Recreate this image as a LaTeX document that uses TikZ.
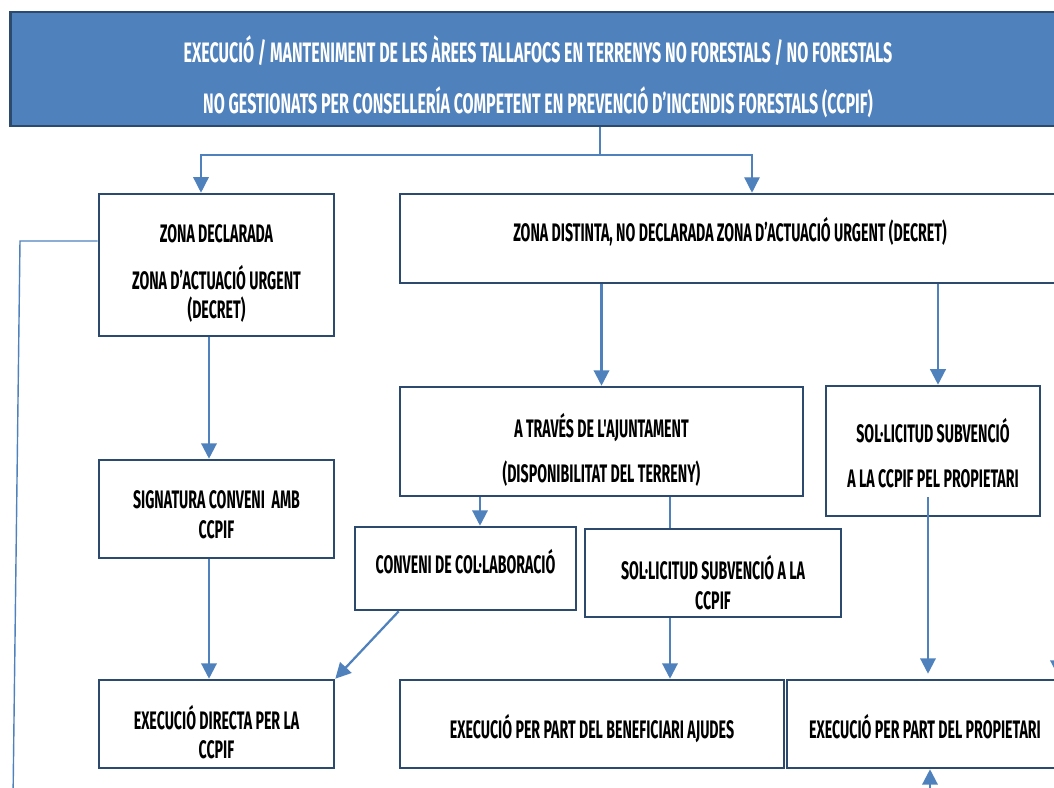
\documentclass[tikz,border=0pt]{standalone}
\usepackage{fontspec}
\setmainfont[FakeStretch=0.57]{Fira Sans}
\newfontfamily\boxfont[FakeStretch=0.56]{Fira Sans}
\usepackage{tikz}
\usetikzlibrary{arrows.meta,positioning,calc}
\definecolor{hdr}{HTML}{4F81BD}
\definecolor{edge}{HTML}{2C4A6E}
\definecolor{flow}{HTML}{4F81BD}
\newcommand\up[1]{\rule{0pt}{#1}}
\newcommand\dnn[1]{\rule[-#1]{0pt}{0pt}}

\begin{document}
\begin{tikzpicture}[x=0.025cm,y=-0.025cm,
    box/.style={draw=edge,line width=1.8pt,align=center,inner sep=0pt,
      font=\boxfont\bfseries\fontsize{18}{22}\selectfont},
    arr/.style={flow,line width=1.6pt,-{Triangle[width=11pt,length=11pt]}},
    thin/.style={flow,line width=1pt}]
  \useasboundingbox (0,0) rectangle (1054,788);
  \clip (0,0) rectangle (1054,788);

  % header
  \node[box,fill=hdr,text=white,line width=2pt,minimum width=26.35cm,minimum height=2.85cm,
    font=\bfseries\fontsize{20}{22}\selectfont]
    (head) at (538,69) {\up{30pt}EXECUCIÓ / MANTENIMENT DE LES ÀREES TALLAFOCS EN TERRENYS NO FORESTALS / NO FORESTALS\\[14pt]
    NO GESTIONATS PER CONSELLERÍA COMPETENT EN PREVENCIÓ D’INCENDIS FORESTALS (CCPIF)};

  % boxes
  \node[box,minimum width=5.875cm,minimum height=3.55cm] (decl) at (216.5,265)
    {\up{25pt}ZONA DECLARADA\\[11pt] ZONA D’ACTUACIÓ URGENT\\[-1pt] (DECRET)};
  \node[box,minimum width=16.5cm,minimum height=2.225cm] (dist) at (730,238.5)
    {ZONA DISTINTA, NO DECLARADA ZONA D’ACTUACIÓ URGENT (DECRET)\dnn{12.5pt}};
  \node[box,minimum width=10.075cm,minimum height=2.725cm] (ajunt) at (601.5,441.5)
    {\up{28.6pt}A TRAVÉS DE L'AJUNTAMENT\\[10pt] (DISPONIBILITAT DEL TERRENY)};
  \node[box,minimum width=5.35cm,minimum height=3.25cm] (propsol) at (933,451)
    {\up{20pt}SOL·LICITUD SUBVENCIÓ\\[10pt] A LA CCPIF PEL PROPIETARI};
  \node[box,minimum width=5.875cm,minimum height=2.45cm] (conv) at (216.5,509)
    {\up{21pt}SIGNATURA CONVENI\ \ AMB\\[-1pt] CCPIF};
  \node[box,minimum width=5.525cm,minimum height=2.075cm] (colab) at (465.5,568.5)
    {CONVENI DE COL·LABORACIÓ\dnn{10pt}};
  \node[box,minimum width=6.4cm,minimum height=2.2cm] (solaj) at (713,573)
    {\up{31pt}SOL·LICITUD SUBVENCIÓ A LA\\[-1pt] CCPIF};
  \node[box,minimum width=5.875cm,minimum height=2.2cm] (direct) at (216.5,724)
    {\up{28.6pt}EXECUCIÓ DIRECTA PER LA\\[-1pt] CCPIF};
  \node[box,minimum width=9.6cm,minimum height=2.2cm] (benef) at (592,724)
    {\up{24pt}EXECUCIÓ PER PART DEL BENEFICIARI AJUDES};
  \node[box,minimum width=6.9cm,minimum height=2.2cm] (prop) at (925,724)
    {\up{21pt}EXECUCIÓ PER PART DEL PROPIETARI};

  % split under header
  \coordinate (split) at (600,155);
  \coordinate (dl) at (201,155);
  \coordinate (dr) at (752,155);
  \draw[thin] (head.south -| split) -- (split);
  \draw[thin,-{Triangle[width=11pt,length=11pt]}] (split) -- (dl) -- (dl |- decl.north);
  \draw[thin,-{Triangle[width=11pt,length=11pt]}] (split) -- (dr) -- (dr |- dist.north);

  % left return line
  \coordinate (lt) at (20,241);
  \coordinate (lb) at (13,800);
  \draw[thin] ($(decl.west)+(0,-24)$) -- (lt) -- (lb);

  % declared zone column
  \draw[arr] ($(decl.south)+(-7.5,0)$) -- ($(conv.north)+(-7.5,0)$);
  \draw[arr] ($(conv.south)+(-7.5,0)$) -- ($(direct.north)+(-7.5,0)$);

  % other zone
  \coordinate (c1) at ($(colab.north)+(14.5,0)$);
  \coordinate (c2) at ($(solaj.north)+(-43,0)$);
  \coordinate (c3) at ($(propsol.north)+(5,0)$);
  \draw[arr] (ajunt.north |- dist.south) -- (ajunt.north);
  \draw[arr] (c3 |- dist.south) -- (c3);
  \draw[arr] (c1 |- ajunt.south) -- (c1);
  \draw[thin] (c2 |- ajunt.south) -- (c2);
  \draw[arr] (c2 |- solaj.south) -- (c2 |- benef.north);
  \draw[arr] ($(colab.south west)+(45,0)$) -- (direct.north east);
  \draw[arr] ($(propsol.center)+(-5,46)$) -- ($(prop.north)+(3,-5)$);

  % arrows from off the page
  \coordinate (offr) at (1058,600);
  \coordinate (offb) at (930,800);
  \draw[arr] (offr) -- ($(offr |- prop.north)+(0,-3)$);
  \draw[arr] (offb) -- (offb |- prop.south);
\end{tikzpicture}
\end{document}
